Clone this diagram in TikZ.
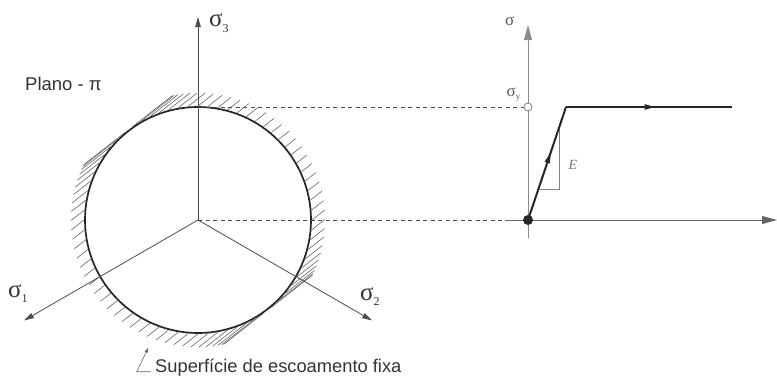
\documentclass[tikz,border=0pt]{standalone}
\usepackage{fontspec}
\setmainfont{Liberation Sans}
\newfontfamily\grk{Liberation Serif}
\usetikzlibrary{arrows.meta,calc,decorations.markings}
\begin{document}
\begin{tikzpicture}[x=1pt,y=1pt,
  axisline/.style={draw=black!70, line width=0.8pt},
  grayaxis/.style={draw=black!45, line width=0.9pt},
  dashline/.style={draw=black!70, line width=0.7pt, dash pattern=on 4pt off 3.5pt},
  hatchline/.style={draw=black!60, line width=0.6pt},
  ringline/.style={draw=black!85, line width=1.7pt},
  curveline/.style={draw=black!85, line width=2pt},
  smalltip/.style={-{Triangle[length=10pt,width=5.5pt]}},
  bigtip/.style={-{Triangle[length=15pt,width=8pt]}},
  biglabel/.style={font=\grk\fontsize{25}{25}\selectfont, text=black!80, inner sep=0pt, anchor=base west},
  rlabel/.style={font=\grk\fontsize{17}{17}\selectfont, text=black!65, inner sep=0pt, anchor=base west},
  txt/.style={font=\fontsize{18.5}{18.5}\selectfont, text=black!80, inner sep=0pt, anchor=base west},
  midarrow/.style={postaction={decorate, decoration={markings,
      mark=at position #1 with {\arrow{Triangle[length=11pt,width=5pt]}}}}}
]
\useasboundingbox (0,0) rectangle (777,376);

% ---------- left: pi-plane ----------
\coordinate (C) at (198,156);
\coordinate (T) at (198,269);
\coordinate (s3) at (198,359);
\coordinate (s1) at (24,55.5);
\coordinate (s2) at (372,55.5);

% hatching outside the circle: short strokes at 38 degrees
\foreach \th in {0,5,...,355}{
  \pgfmathsetmacro\hcv{cos(\th-38)}
  \pgfmathsetmacro\hsg{(\hcv<0) ? -1 : 1}
  \pgfmathsetmacro\hac{abs(\hcv)}
  \pgfmathsetmacro\hlen{100*(-1.14*\hac + sqrt(1.14*1.14*\hac*\hac + 1.27*1.27 - 1.14*1.14))}
  \pgfmathsetmacro\hxa{198+114*cos(\th)}
  \pgfmathsetmacro\hya{156+114*sin(\th)}
  \pgfmathsetmacro\hxb{\hxa+\hsg*\hlen*cos(38)}
  \pgfmathsetmacro\hyb{\hya+\hsg*\hlen*sin(38)}
  \draw[hatchline] (\hxa,\hya) -- (\hxb,\hyb);
}

\draw[ringline] (C) circle (113);

\draw[axisline, smalltip] (C) -- (s3);
\draw[axisline, smalltip] (C) -- (s1);
\draw[axisline, smalltip] (C) -- (s2);

\node[biglabel] (l3) at (209,349) {σ\raisebox{-5pt}{\fontsize{12}{12}\selectfont 3}};
\node[biglabel] (l1) at (8,79) {σ\raisebox{-5pt}{\fontsize{12}{12}\selectfont 1}};
\node[biglabel] (l2) at (360,76) {σ\raisebox{-5pt}{\fontsize{12}{12}\selectfont 2}};

\node[txt] (plano) at (25,285.3) {Plano - π};

\node[txt, font=\fontsize{18.3}{18.3}\selectfont] (sup) at (155,4) {Superfície de escoamento fixa};
\coordinate (ld0) at (150.5,4.3);
\coordinate (ld1) at (136.7,4.3);
\coordinate (ld2) at (148.3,28.3);
\draw[draw=black!60, line width=0.6pt, -{Triangle[length=5pt,width=3pt]}] (ld0) -- (ld1) -- (ld2);

% ---------- right: stress-strain ----------
\coordinate (O) at (528,156);
\coordinate (vb) at (528,138);
\coordinate (vt) at (528,351);
\coordinate (hb) at (505,156);
\coordinate (ht) at (777,156);
\coordinate (Y) at (528,269);
\coordinate (K) at (566,269);
\coordinate (Kend) at (732,269);
\coordinate (tr1) at (559,248.2);
\coordinate (tr2) at (559,187);
\coordinate (tr3) at (538.4,187);

\draw[dashline] (T) -- (Y);
\draw[dashline] (C) -- (hb);

\draw[grayaxis, bigtip] (vb) -- (vt);
\draw[grayaxis, bigtip, draw=black!60] (hb) -- (ht);

\draw[draw=black!50, line width=0.6pt] (tr1) -- (tr2) -- (tr3);

\draw[curveline, midarrow=0.6] (O) -- (K);
\draw[curveline, midarrow=0.54] (K) -- (Kend);

\node[circle, draw=black!55, fill=white, line width=0.7pt, minimum size=8pt, inner sep=0pt] (ys) at (Y) {};
\node[circle, fill=black!85, minimum size=10pt, inner sep=0pt] (org) at (O) {};

\node[rlabel] (sig) at (505,350.3) {σ};
\node[rlabel] (sigy) at (506.5,279.5) {σ\raisebox{-3pt}{\fontsize{9}{9}\selectfont y}};
\node[font=\grk\itshape\fontsize{14}{14}\selectfont, text=black!55, inner sep=0pt] (E) at (573,211) {E};
\end{tikzpicture}
\end{document}
